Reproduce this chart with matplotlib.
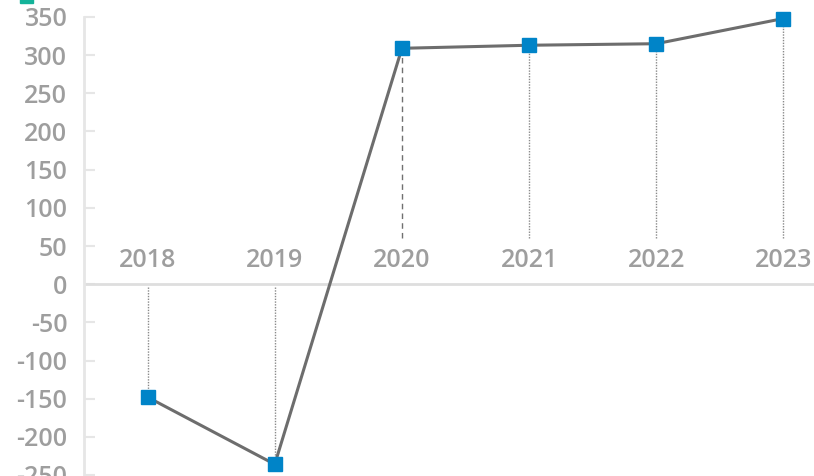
import matplotlib.pyplot as plt
from matplotlib.patches import Rectangle

# data
years = ["2018", "2019", "2020", "2021", "2022", "2023"]
values = [-148, -236, 309, 313, 315, 348]
yticks = [-250, -200, -150, -100, -50, 0, 50, 100, 150, 200, 250, 300, 350]

plt.rcParams['font.family'] = ['Open Sans', 'DejaVu Sans']

fig = plt.figure(figsize=(8.14, 4.76), dpi=100)
# the plot runs off the right edge in the original
ax = fig.add_axes([84 / 814, 1 / 476, 763 / 814, 458 / 476])

x = list(range(len(years)))

# drop lines: stop above the year labels, start just below the zero line
for i, v in enumerate(values):
    y0 = 60 if v > 0 else -4
    if i == 2:
        ax.vlines(i, y0, v, colors="#707070", linestyles=(0, (4, 3)), linewidth=1.0, zorder=1)
    else:
        ax.vlines(i, y0, v, colors="#8a8a8a", linestyles=(0, (1, 1)), linewidth=1.0, zorder=1)

ax.plot(x, values, color="#6d6d6d", linewidth=2.2, marker="s", markersize=10.5,
        markerfacecolor="#0084c8", markeredgecolor="#0084c8", zorder=3, clip_on=False)

# zero line
ax.axhline(0, color="#dedede", linewidth=2, zorder=2)

ax.set_xlim(-0.5, 5.5)
ax.set_ylim(-250, 350)
ax.set_yticks(yticks)
ax.set_yticklabels([str(t) for t in yticks])
ax.set_xticks([])

for s in ["top", "right", "bottom"]:
    ax.spines[s].set_visible(False)
ax.spines["left"].set_color("#e6e6e6")
ax.spines["left"].set_linewidth(2)
ax.tick_params(axis="y", direction="in", length=8, width=1.5, color="#e6e6e6",
               labelcolor="#9e9e9e", labelsize=18, pad=12)
for lab in ax.get_yticklabels():
    lab.set_fontweight("semibold")

# category labels sit just above the zero line
for i, yr in enumerate(years):
    ax.text(i, 14, yr, ha="center", va="bottom", fontsize=18, color="#9e9e9e",
            fontweight="semibold")

# clipped legend marker at the top-left corner
fig.patches.append(Rectangle((20 / 814, 1 - 3 / 476), 13 / 814, 6 / 476,
                             transform=fig.transFigure, color="#14b39a"))

fig.savefig("out.png", dpi=100)
